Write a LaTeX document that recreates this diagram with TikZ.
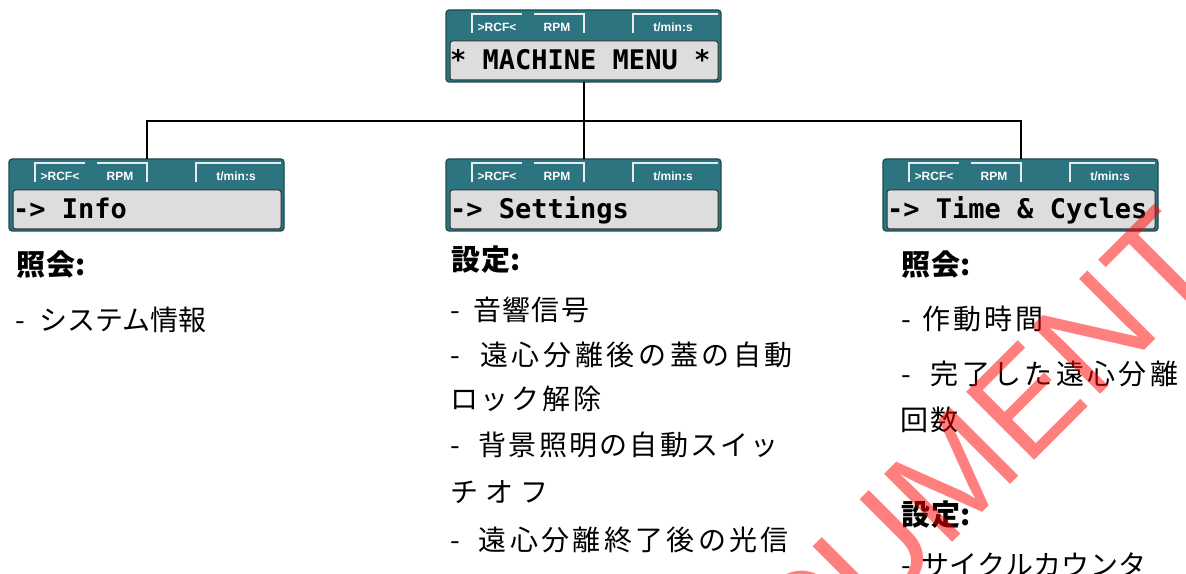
\documentclass[tikz,border=0pt]{standalone}
\usepackage{fontspec}
\newfontfamily\jpfont{Noto Sans CJK JP}
\newfontfamily\lcdfont{DejaVu Sans Mono}
\newfontfamily\tabfont{Liberation Sans}
\definecolor{tealbg}{HTML}{2B7480}
\definecolor{tealdark}{HTML}{1C4A52}
\definecolor{lcdgray}{HTML}{DCDDDC}
\tikzset{
 outerbox/.style={draw=tealdark, fill=tealbg, line width=1.2pt, rounded corners=3pt, minimum width=275pt, minimum height=72pt, inner sep=0pt, outer sep=0pt},
 screen/.style={draw=black!80, fill=lcdgray, line width=1pt, rounded corners=2.5pt, minimum width=268pt, minimum height=39pt, inner sep=0pt, outer sep=0pt},
 tabline/.style={draw=white!92!black, line width=1.6pt},
 tablabel/.style={text=white, font=\tabfont\bfseries\fontsize{12}{12}\selectfont, inner sep=0pt, anchor=base},
 lcdtext/.style={font=\lcdfont\bfseries\fontsize{27}{27}\selectfont, inner sep=0pt, anchor=base west},
 conn/.style={line width=2pt, draw=black},
 jphead/.style={font=\jpfont\bfseries\fontsize{29}{29}\selectfont, inner sep=0pt, anchor=base west},
 jpbody/.style={font=\jpfont\fontsize{28}{28}\selectfont, inner sep=0pt, anchor=base west},
}
\newcommand\lcdpanel[4]{%
 \node[outerbox, anchor=north west] (#1) at (#2,573-#3) {};
 \node[screen, anchor=north west] (#1-scr) at ([shift={(4pt,-31pt)}]#1.north west) {};
 \draw[tabline] ([shift={(26pt,-23pt)}]#1.north west) |- ([shift={(76pt,-4pt)}]#1.north west);
 \draw[tabline] ([shift={(88pt,-4pt)}]#1.north west) -| ([shift={(138pt,-23pt)}]#1.north west);
 \draw[tabline] ([shift={(187pt,-23pt)}]#1.north west) |- ([shift={(272pt,-4pt)}]#1.north west);
 \node[tablabel] (#1-rcf) at ([shift={(51pt,-22pt)}]#1.north west) {>RCF<};
 \node[tablabel] (#1-rpm) at ([shift={(111pt,-22pt)}]#1.north west) {RPM};
 \node[tablabel] (#1-tmin) at ([shift={(227pt,-22pt)}]#1.north west) {t/min:s};
 \node[lcdtext] (#1-txt) at ([shift={(4pt,-60pt)}]#1.north west) {#4};
}
\newcommand\ls[1]{\addfontfeature{LetterSpace=#1}}
\begin{document}
\begin{tikzpicture}[x=1pt,y=1pt]
\useasboundingbox (0,0) rectangle (1186,573);
\fill[white] (0,0) rectangle (1186,573);
\clip (0,0) rectangle (1186,573);

\lcdpanel{top}{446}{10}{* MACHINE MENU *}
\lcdpanel{info}{9}{159}{-> Info}
\lcdpanel{settings}{446}{159}{-> Settings}
\lcdpanel{time}{883}{159}{-> Time \& Cycles}

\coordinate (hline) at (0,573-121);
\coordinate (junc) at (top.south |- hline);
\draw[conn] (top.south) -- (junc);
\draw[conn] (junc) -| (info.north);
\draw[conn] (junc) -- (settings.north);
\draw[conn] (junc) -| (time.north);

% left column
\node[jphead] (l0) at (16,573-276) {\ls{3}照会:};
\node[jpbody] (l1) at (15,573-331) {\makebox[24pt][l]{-}システム情報};

% middle column
\node[jphead] (m0) at (451,573-271) {\ls{3}設定:};
\node[jpbody] (m1) at (450,573-321) {\makebox[23.5pt][l]{-}\ls{4}音響信号};
\node[jpbody] (m2) at (450,573-366) {\makebox[30pt][l]{-}\ls{13}遠心分離後の蓋の自動};
\node[jpbody] (m3) at (450,573-410) {\ls{10}ロック解除};
\node[jpbody] (m4) at (450,573-456) {\makebox[28.5pt][l]{-}\ls{8}背景照明の自動スイッ};
\node[jpbody] (m5) at (450,573-503) {\ls{25}チオフ};
\node[jpbody] (m6) at (450,573-550) {\makebox[28.5pt][l]{-}\ls{12}遠心分離終了後の光信};

% right column
\node[jphead] (r0) at (901,573-276) {\ls{3}照会:};
\node[jpbody] (r1) at (901,573-330) {\makebox[21pt][l]{-}\ls{11}作動時間};
\node[jpbody] (r2) at (901,573-385) {\makebox[29.5pt][l]{-}\ls{12}完了した遠心分離};
\node[jpbody] (r3) at (900,573-431) {\ls{7}回数};
\node[jphead] (r4) at (901,573-526) {\ls{3}設定:};
\node[jpbody] (r5) at (901,573-575) {\makebox[20pt][l]{-}\ls{2}サイクルカウンタ};

% watermark
\node[font=\tabfont\fontsize{140}{140}\selectfont, text=red, text opacity=0.5, rotate=45, anchor=base, inner sep=0pt] (wm) at (939,573-556) {DOCUMENT};
\end{tikzpicture}
\end{document}
